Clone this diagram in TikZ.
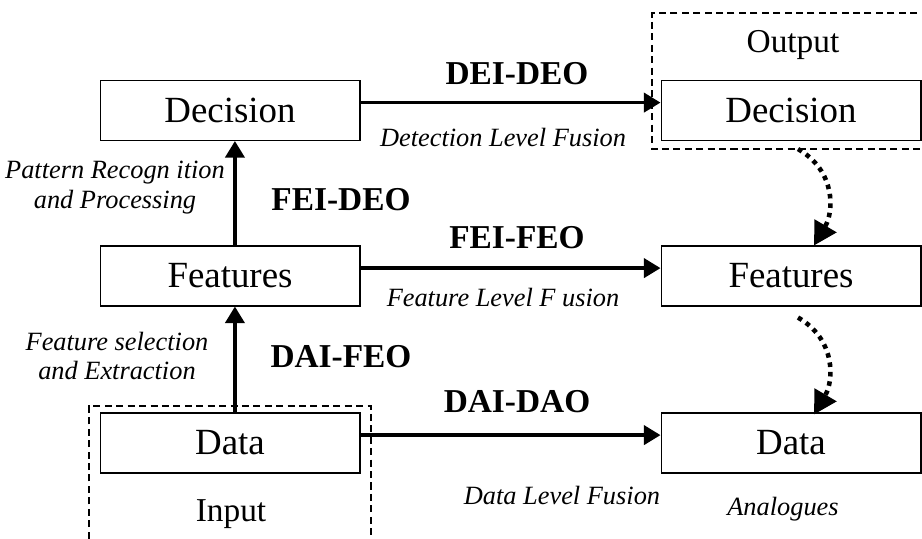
\documentclass[tikz,border=0pt]{standalone}
\usepackage{fontspec}
\setmainfont{Liberation Serif}
\usetikzlibrary{arrows.meta,calc,positioning}

\begin{document}
\begin{tikzpicture}[x=0.02cm,y=-0.02cm,
    level/.style={draw, line width=0.6pt, minimum width=5.2cm, minimum height=1.2cm, inner sep=0pt, font=\fontsize{21}{24}\selectfont},
    fuse/.style={line width=1.9pt, -{Triangle[length=9.5pt,width=11pt]}},
    back/.style={line width=2.6pt, dash pattern=on 2.6pt off 2.8pt, -{Triangle[length=13pt,width=14pt]}},
    group/.style={line width=0.7pt, dash pattern=on 4pt off 2.5pt},
    tag/.style={font=\fontsize{19}{22}\selectfont\bfseries},
    how/.style={font=\fontsize{15}{17}\selectfont\itshape, align=center},
    side/.style={font=\fontsize{19}{22}\selectfont}]
    \useasboundingbox (0,0) rectangle (922,538);

    % Input side (left)
    \node[level] (decL) at (230,110.5) {Decision};
    \node[level] (feaL) at (230,276) {Features};
    \node[level] (datL) at (230,443) {Data};
    \draw[group] (89,550) -- (89,406) -- (371,406) -- (371,550);
    \node[side] (inp) at (231,514) {Input};

    % Output side (right)
    \node[level] (decR) at (791,110.5) {Decision};
    \node[level] (feaR) at (791,276) {Features};
    \node[level] (datR) at (791,443) {Data};
    \draw[group] (940,13) -- (652,13) -- (652,149) -- (940,149);
    \node[side] (outp) at (793,45) {Output};
    \node[how] (anl) at (783,509) {Analogues};

    % fusion across levels
    \draw[fuse] ([yshift=4.5pt]decL.east) -- ([yshift=4.5pt]decR.west);
    \draw[fuse] ([yshift=4.5pt]feaL.east) -- ([yshift=4.5pt]feaR.west);
    \draw[fuse] ([yshift=4.5pt]datL.east) -- ([yshift=4.5pt]datR.west);
    \node[tag] (dd) at (517,74) {DEI-DEO};
    \node[tag] (ff) at (517,238) {FEI-FEO};
    \node[tag] (aa) at (517,402) {DAI-DAO};
    \node[how] (detf) at (503,138) {Detection Level Fusion};
    \node[how] (feaf) at (503,298) {Feature Level F usion};
    \node[how] (datf) at (562,495) {Data Level Fusion};

    % going up on the input side
    \draw[fuse] ([xshift=2.8pt]datL.north) -- ([xshift=2.8pt]feaL.south);
    \draw[fuse] ([xshift=2.8pt]feaL.north) -- ([xshift=2.8pt]decL.south);
    \node[tag] (fd) at (341,200) {FEI-DEO};
    \node[tag] (af) at (341,357) {DAI-FEO};
    \node[how] (pat) at (115,188) {Pattern Recogn ition\\[0pt]and Processing};
    \node[how] (sel) at (117,356) {Feature selection\\[0pt]and Extraction};

    % going down on the output side
    \draw[back] ($(decR.south)+(7,8)$) .. controls +(38,22) and +(20,-34) .. ($(feaR.north)+(23,0)$);
    \draw[back] ($(feaR.south)+(7,11)$) .. controls +(38,22) and +(20,-34) .. ($(datR.north)+(23,2)$);
\end{tikzpicture}
\end{document}
